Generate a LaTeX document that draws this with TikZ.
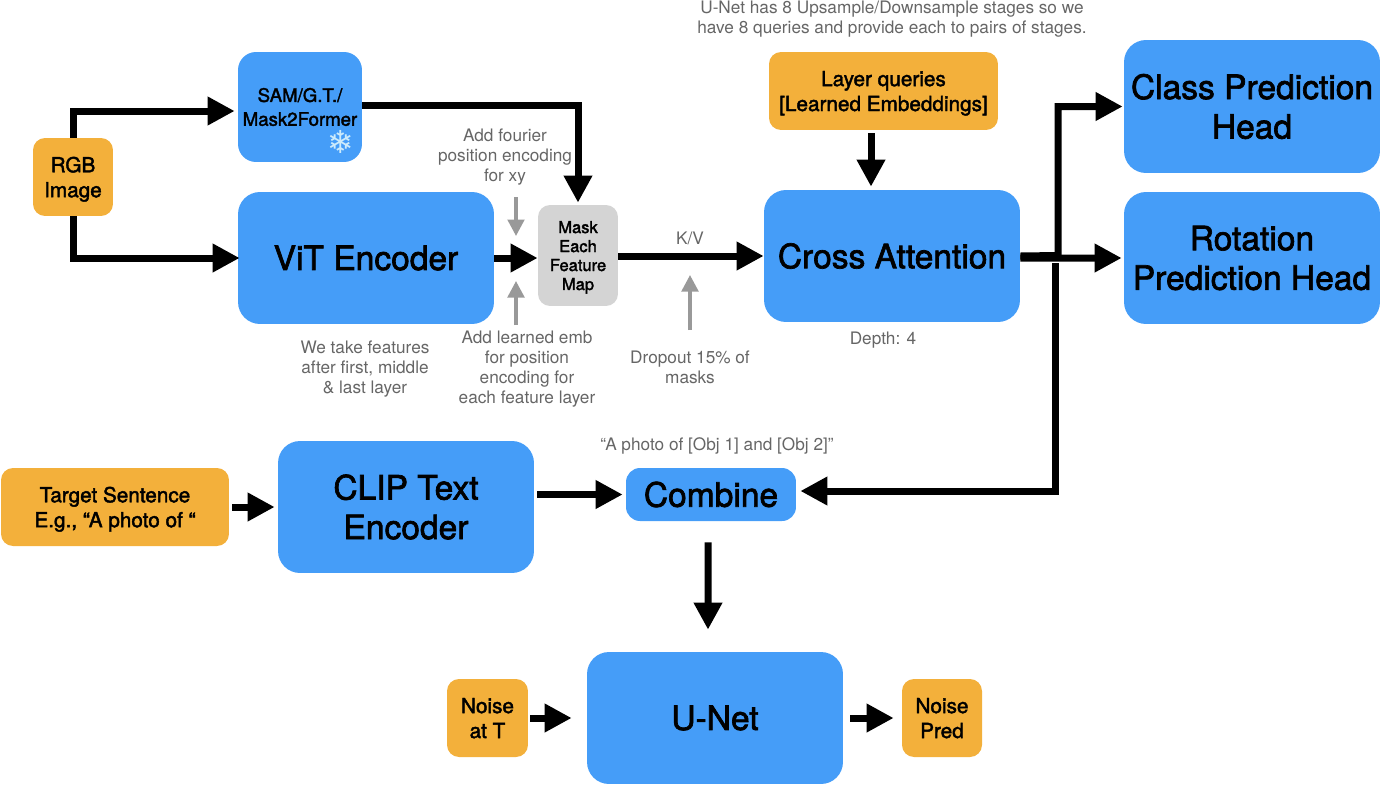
\documentclass[tikz,border=0pt]{standalone}
\usepackage{fontspec}
\setmainfont{TeX Gyre Heros}
\newfontfamily\boxfont[FakeBold=2]{TeX Gyre Heros}
\newfontfamily\flakefont{DejaVu Sans}
\usetikzlibrary{arrows.meta}
\definecolor{boxblue}{HTML}{459DF8}
\definecolor{boxorange}{HTML}{F3B03B}
\definecolor{boxgray}{HTML}{D4D4D4}
\definecolor{notegray}{HTML}{666666}
\definecolor{hintgray}{HTML}{999999}
\definecolor{flakeblue}{HTML}{CDEBFB}
\tikzset{
	bigbox/.style={fill=boxblue, rounded corners=0.44cm, minimum width=5.12cm, minimum height=2.64cm, align=center, inner sep=0pt, font=\boxfont\fontsize{19.1}{22.5}\selectfont},
	inbox/.style={fill=boxorange, rounded corners=0.24cm, align=center, inner sep=0pt, text depth=0pt, font=\boxfont\fontsize{11.8}{14.2}\selectfont},
	note/.style={text=notegray, align=center, font=\fontsize{9.8}{11.5}\selectfont},
	flow/.style={line width=0.14cm, -{Triangle[length=0.54cm, width=0.54cm]}},
	hint/.style={line width=0.07cm, color=hintgray, -{Triangle[length=0.33cm, width=0.33cm]}},
}
\begin{document}
\begin{tikzpicture}[x=0.02cm, y=-0.02cm]
	\useasboundingbox (0, 0) rectangle (1380, 785);

	\node[inbox, minimum width=1.6cm, minimum height=1.56cm] (rgb) at (73, 177) {RGB\\Image};
	\node[bigbox, minimum width=2.48cm, minimum height=2.2cm, rounded corners=0.36cm, font=\boxfont\fontsize{10.6}{13.6}\selectfont] (sam) at (300, 107) {SAM/G.T./\\Mask2Former};
	\node[text=flakeblue, font=\flakefont\fontsize{18}{18}\selectfont] (flake) at (341, 142) {❄};
	\node[bigbox] (vit) at (366, 258) {ViT Encoder};
	\node[fill=boxgray, rounded corners=0.24cm, minimum width=1.6cm, minimum height=2.02cm, align=center, inner sep=0pt, text depth=0pt, font=\boxfont\fontsize{9.4}{10.8}\selectfont] (mask) at (578, 255.5) {Mask\\Each\\Feature\\Map};
	\node[inbox, minimum width=4.58cm, minimum height=1.56cm] (queries) at (883.5, 91) {Layer queries\\{[Learned Embeddings]}};
	\node[bigbox] (cross) at (892, 256) {Cross Attention};
	\node[bigbox, minimum height=2.66cm] (classhead) at (1252, 106.5) {Class Prediction\\Head};
	\node[bigbox] (rothead) at (1252, 258) {Rotation\\Prediction Head};
	\node[inbox, minimum width=4.56cm, minimum height=1.56cm] (target) at (115, 507) {Target Sentence\\E.g., “A photo of “};
	\node[bigbox] (clip) at (406, 507) {CLIP Text\\Encoder};
	\node[bigbox, minimum width=3.4cm, minimum height=1.06cm, rounded corners=0.28cm] (combine) at (711, 494.5) {Combine};
	\node[bigbox] (unet) at (715, 718) {U-Net};
	\node[inbox, minimum width=1.62cm, minimum height=1.56cm] (noiset) at (487.5, 718) {Noise\\at T};
	\node[inbox, minimum width=1.6cm, minimum height=1.56cm] (noisepred) at (942, 718) {Noise\\Pred};

	\node[note] (stages) at (892, 19) {U-Net has 8 Upsample/Downsample stages so we\\have 8 queries and provide each to pairs of stages.};
	\node[note] (fourier) at (505, 157) {Add fourier\\position encoding\\for xy};
	\node[note] (learned) at (527, 369) {Add learned emb\\for position\\encoding for\\each feature layer};
	\node[note] (layers) at (365, 369) {We take features\\after first, middle\\\& last layer};
	\node[note] (dropout) at (690, 367) {Dropout 15\% of\\masks};
	\node[note] (kv) at (690, 238) {K/V};
	\node[note] (depth) at (883, 340) {Depth: 4};
	\node[note] (photo) at (717, 446) {“A photo of [Obj 1] and [Obj 2]”};

	\coordinate (fourierend) at (516, 197);
	\coordinate (fouriertip) at (516, 236);
	\coordinate (learnedend) at (516, 325);
	\coordinate (learnedtip) at (516, 281);
	\coordinate (dropend) at (690, 330);
	\coordinate (droptip) at (690, 275);
	\coordinate (branchup) at (1058, 255.5);
	\coordinate (branchdown) at (1055, 263);

	\draw[flow] (rgb.north) |- ([yshift=-0.08cm, xshift=-0.06cm]sam.west);
	\draw[flow] (rgb.south) |- ([xshift=0.04cm]vit.west);
	\draw[flow] ([yshift=0.04cm]sam.east) -| ([yshift=0.04cm]mask.north);
	\draw[flow] (vit.east) -- (vit.east -| mask.west);
	\draw[flow] (mask.east |- cross.west) -- (cross.west);
	\draw[flow, shorten <=0.06cm, shorten >=0.06cm] ([xshift=-0.25cm]queries.south) -- ([xshift=-0.25cm]queries.south |- cross.north);
	\draw[flow] ([yshift=-0.04cm]cross.east) -- ([xshift=-0.04cm]rothead.west);
	\draw[flow] (cross.east) -- (branchup) |- ([xshift=-0.02cm]classhead.west);
	\draw[flow] (branchdown) |- ([xshift=0.08cm, yshift=0.07cm]combine.east);
	\draw[flow, shorten <=0.06cm, shorten >=0.06cm] (target) -- (clip);
	\draw[flow, shorten <=0.06cm, shorten >=0.06cm] (clip.east |- combine.west) -- (combine.west);
	\draw[flow, shorten <=0.42cm, shorten >=0.44cm] ([xshift=-0.06cm]combine.south) -- ([xshift=-0.14cm]unet.north);
	\draw[flow, shorten <=0.04cm, shorten >=0.3cm] (noiset) -- (unet);
	\draw[flow, shorten <=0.14cm, shorten >=0.16cm] (unet) -- (noisepred);

	\draw[hint] (fourierend) -- (fouriertip);
	\draw[hint] (learnedend) -- (learnedtip);
	\draw[hint] (dropend) -- (droptip);
\end{tikzpicture}
\end{document}
